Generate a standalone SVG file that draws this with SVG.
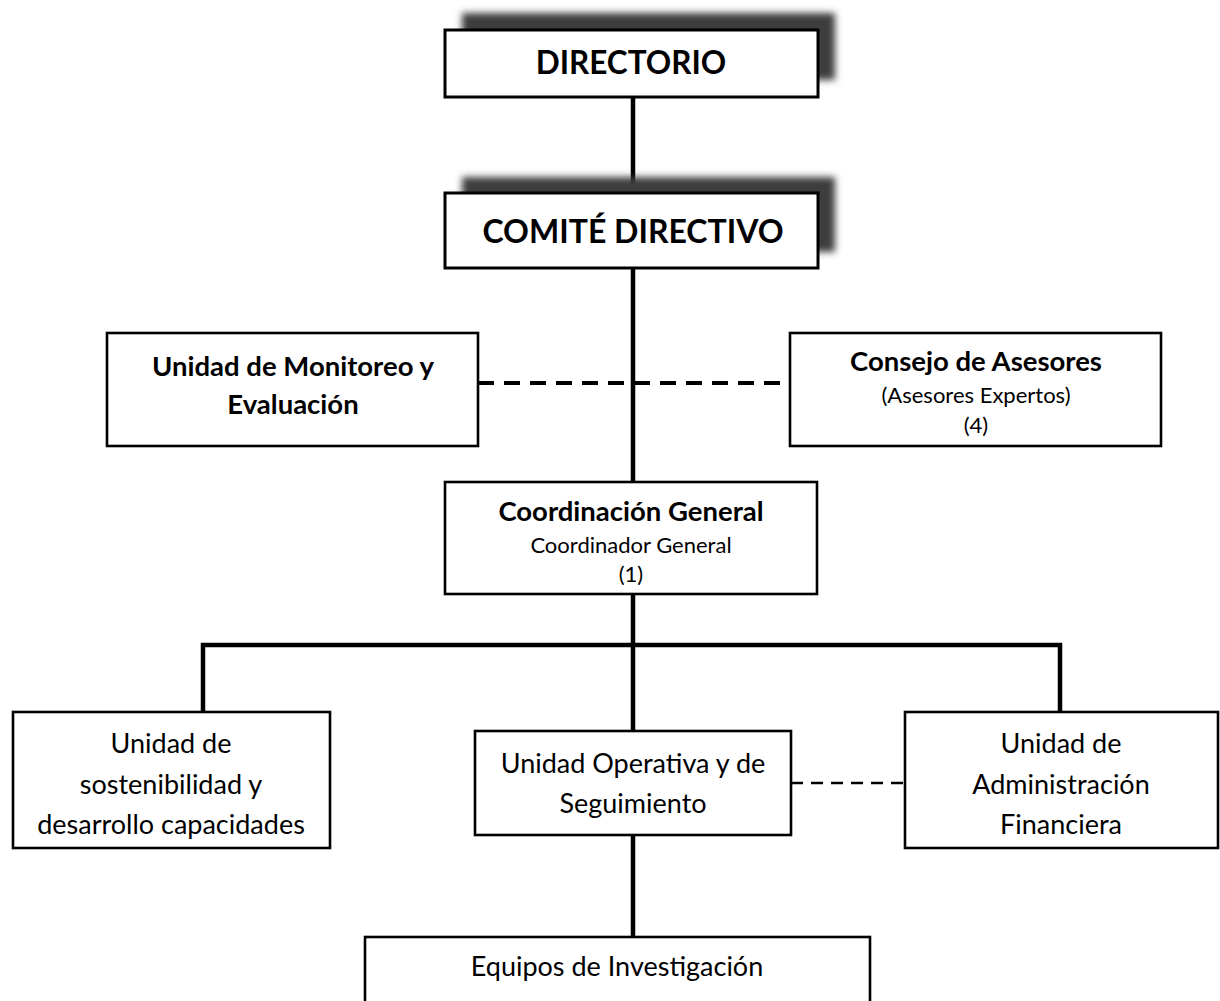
<svg xmlns="http://www.w3.org/2000/svg" width="1220" height="1001" viewBox="0 0 1220 1001">
<defs>
<filter id="blur" x="-10%" y="-30%" width="120%" height="160%"><feGaussianBlur stdDeviation="3.5"/></filter>
</defs>
<style>
.box{fill:#fff;stroke:#000;stroke-width:2.6}
.shadow{fill:#3c3c3c;filter:url(#blur)}
.ln{stroke:#000;stroke-width:4.5;fill:none}
.dash1{stroke:#000;stroke-width:4;stroke-dasharray:16 10;fill:none}
.dash2{stroke:#000;stroke-width:2.5;stroke-dasharray:12 8;fill:none}
text{font-family:Lato,"Liberation Sans",sans-serif;fill:#000;text-anchor:middle}
.b{font-weight:bold}
.t1{font-size:31.5px}
.t2{font-size:32px}
.t3{font-size:27.5px}
.t4{font-size:22px}
.t5{font-size:27px}
</style>
<rect width="1220" height="1001" fill="#fff"/>
<g id="connectors">
<line class="ln" x1="633" y1="97" x2="633" y2="193"/>
<line class="ln" x1="633" y1="268" x2="633" y2="482"/>
<line class="ln" x1="633" y1="594" x2="633" y2="731"/>
<line class="ln" x1="633" y1="835" x2="633" y2="936"/>
<polyline class="ln" points="203,712 203,645 1060,645 1060,712"/>
<line class="dash1" x1="478" y1="383" x2="790" y2="383"/>
<line class="dash2" x1="791" y1="783" x2="905" y2="783"/>
</g>
<g id="directorio">
<rect class="shadow" x="462" y="13" width="373" height="67"/>
<rect class="box" x="445" y="30" width="373" height="67" style="stroke-width:3"/>
<text class="b t1" x="631" y="74">DIRECTORIO</text>
</g>
<g id="comite">
<rect class="shadow" x="462" y="177" width="373" height="75"/>
<rect class="box" x="445" y="193" width="373" height="75" style="stroke-width:3"/>
<text class="b t2" x="633" y="243">COMITÉ DIRECTIVO</text>
</g>
<g id="monitoreo">
<rect class="box" x="107" y="333" width="371" height="113"/>
<text class="b t3" x="293" y="376">Unidad de Monitoreo y</text>
<text class="b t3" x="293" y="414">Evaluación</text>
</g>
<g id="consejo">
<rect class="box" x="790" y="333" width="371" height="113"/>
<text class="b t3" x="976" y="371">Consejo de Asesores</text>
<text class="t4" x="976" y="403">(Asesores Expertos)</text>
<text class="t4" x="976" y="433">(4)</text>
</g>
<g id="coordinacion">
<rect class="box" x="445" y="482" width="372" height="112"/>
<text class="b t3" x="631" y="521">Coordinación General</text>
<text class="t4" x="631" y="553">Coordinador General</text>
<text class="t4" x="631" y="582">(1)</text>
</g>
<g id="sostenibilidad">
<rect class="box" x="13" y="712" width="317" height="136"/>
<text class="t5" x="171" y="753">Unidad de</text>
<text class="t5" x="171" y="794">sostenibilidad y</text>
<text class="t5" x="171" y="834">desarrollo capacidades</text>
</g>
<g id="operativa">
<rect class="box" x="475" y="731" width="316" height="104"/>
<text class="t5" x="633" y="773">Unidad Operativa y de</text>
<text class="t5" x="633" y="813">Seguimiento</text>
</g>
<g id="administracion">
<rect class="box" x="905" y="712" width="313" height="136"/>
<text class="t5" x="1061" y="753">Unidad de</text>
<text class="t5" x="1061" y="794">Administración</text>
<text class="t5" x="1061" y="834">Financiera</text>
</g>
<g id="equipos">
<rect class="box" x="365" y="937" width="505" height="80"/>
<text class="t5" x="617" y="976">Equipos de Investigación</text>
</g>
</svg>
